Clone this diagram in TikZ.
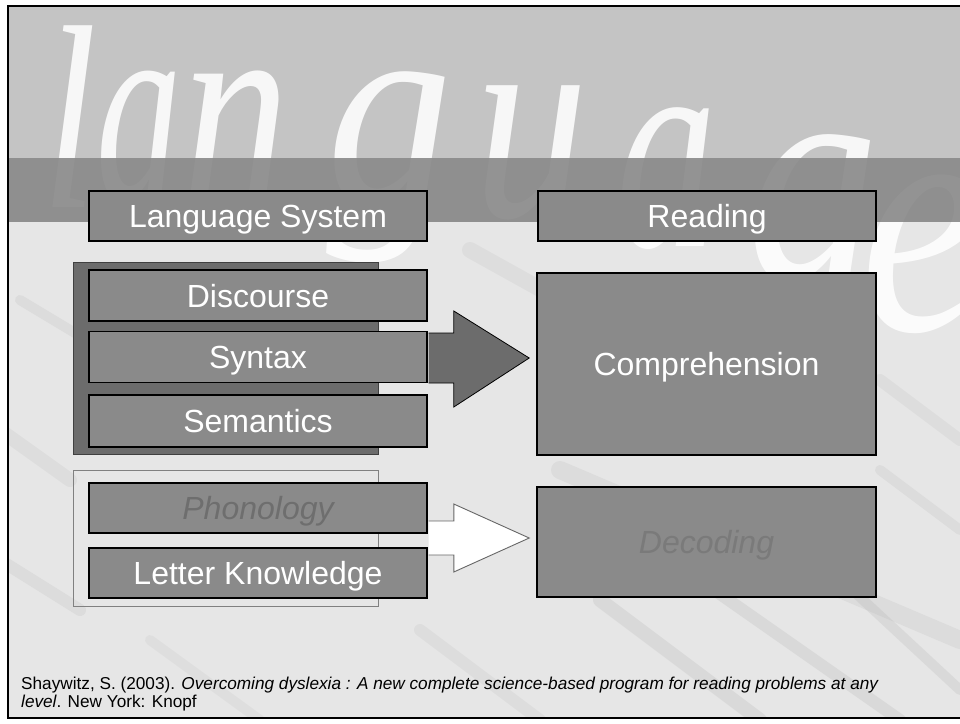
\documentclass[tikz,border=0pt]{standalone}
\usepackage{fontspec}
\setmainfont{Liberation Sans}
\newfontfamily\bigserif{Liberation Serif}
\usetikzlibrary{calc}
\definecolor{topbg}{HTML}{C4C4C4}
\definecolor{lowbg}{HTML}{E6E6E6}
\definecolor{bandc}{HTML}{7A7A7A}
\definecolor{boxfill}{HTML}{8A8A8A}
\definecolor{grpfill}{HTML}{6C6C6C}
\definecolor{dimtext}{HTML}{6E6E6E}
\definecolor{streak}{HTML}{A0A0A0}
\begin{document}
\begin{tikzpicture}[x=1pt,y=-1pt,
  box/.style={draw=black,line width=1.6pt,fill=boxfill,text=white,inner sep=0pt,
    minimum width=338pt,minimum height=50pt,text height=23pt,text depth=0pt,
    font=\fontsize{32}{36}\selectfont},
  dimbox/.style={box,text=dimtext,font=\fontsize{32}{36}\selectfont\itshape},
  grpbox/.style={inner sep=0pt,minimum width=305pt},
  bigletter/.style={anchor=base west,inner sep=0pt,text=white,text opacity=0.88},
  streakline/.style={draw=streak,line cap=round},
  solidarrow/.style={fill=grpfill,draw=black,line width=0.8pt,line join=miter},
  hollowarrow/.style={draw=black!60,line width=0.9pt,line join=miter}
]
\useasboundingbox (0,0) rectangle (960,723);
\fill[white] (0,0) rectangle (960,723);
\begin{scope}
  \clip (8,6) rectangle (962,718);
  \fill[lowbg] (0,0) rectangle (962,723);
  % streaks of the photo background
  \draw[streakline,line width=10pt,opacity=0.14] (20,300) -- (120,360);
  \draw[streakline,line width=14pt,opacity=0.12] (0,430) -- (70,480);
  \draw[streakline,line width=12pt,opacity=0.14] (0,560) -- (80,610);
  \draw[streakline,line width=18pt,opacity=0.14] (560,470) -- (960,640);
  \draw[streakline,line width=14pt,opacity=0.18] (600,600) -- (760,720);
  \draw[streakline,line width=12pt,opacity=0.18] (700,580) -- (900,720);
  \draw[streakline,line width=10pt,opacity=0.18] (820,560) -- (960,690);
  \draw[streakline,line width=10pt,opacity=0.14] (880,470) -- (960,530);
  \draw[streakline,line width=12pt,opacity=0.12] (420,630) -- (540,720);
  \draw[streakline,line width=10pt,opacity=0.10] (150,640) -- (260,720);
  \draw[streakline,line width=16pt,opacity=0.12] (470,250) -- (560,300);
  \draw[streakline,line width=12pt,opacity=0.12] (880,380) -- (960,440);
  \fill[topbg] (0,0) rectangle (962,158);
  % large watermark word
  \node[bigletter,font=\bigserif\itshape\fontsize{262}{262}\selectfont] (w1) at (42,207) {\scalebox{0.75}[1]{l}};
  \node[bigletter,font=\bigserif\itshape\fontsize{275}{275}\selectfont] (w2) at (96,200) {\scalebox{0.62}[1]{a}};
  \node[bigletter,font=\bigserif\itshape\fontsize{275}{275}\selectfont] (w3) at (182,200) {\scalebox{0.78}[1]{n}};
  \node[bigletter,font=\bigserif\itshape\fontsize{280}{280}\selectfont] (w4) at (326,203) {\scalebox{0.9}[1]{g}};
  \node[bigletter,font=\bigserif\itshape\fontsize{285}{285}\selectfont] (w5) at (474,216) {\scalebox{0.8}[1]{u}};
  \node[bigletter,font=\bigserif\itshape\fontsize{295}{295}\selectfont] (w6) at (616,246) {\scalebox{0.68}[1]{a}};
  \node[bigletter,font=\bigserif\itshape\fontsize{310}{310}\selectfont] (w7) at (746,280) {\scalebox{0.85}[1]{g}};
  \node[bigletter,font=\bigserif\itshape\fontsize{330}{330}\selectfont] (w8) at (860,330) {\scalebox{0.85}[1]{e}};
  \fill[bandc,opacity=0.8] (0,158) rectangle (962,222);
\end{scope}
\draw[black,line width=1.4pt] (8,6) rectangle (962,718);

% groups
\node[grpbox,fill=grpfill,draw=black!75,line width=0.6pt,minimum height=192pt] (g1) at (225.5,358) {};
\node[grpbox,draw=black!50,line width=0.8pt,minimum height=136pt] (g2) at (225.5,538) {};

% boxes
\node[box] (lang) at (258,216) {Language System};
\node[box] (read) at (707,216) {Reading};
\node[box,minimum height=51pt] (disc) at (258,295.5) {Discourse};
\node[box,minimum height=51pt] (syn) at (258,357) {Syntax};
\node[box,minimum height=52pt] (sem) at (258,421) {Semantics};
\node[dimbox] (phon) at (258,508) {Phonology};
\node[box] (letter) at (258,573) {Letter Knowledge};
\node[box,minimum width=339pt,minimum height=182pt] (comp) at (706.5,364) {Comprehension};
\node[dimbox,text=black!52,minimum width=339pt,minimum height=110pt] (dec) at (706.5,542) {Decoding};

% solid arrow: language comprehension -> comprehension
\coordinate (tipA) at ($(comp.west |- syn.east)+(-7,1)$);
\draw[solidarrow] ($(syn.east)+(0.8,-24)$) -- ($(syn.east)+(26,-24)$) -- ($(syn.east)+(26,-46)$)
  -- (tipA) -- ($(syn.east)+(26,50)$) -- ($(syn.east)+(26,26)$) -- ($(syn.east)+(0.8,26)$);

% hollow arrow: phonology & letter knowledge -> decoding
\coordinate (hs) at ($(phon.east)!0.5!(letter.east)+(0,-2.5)$);
\coordinate (tipB) at ($(dec.west |- hs)+(-7,0)$);
\fill[white] ($(hs)+(0.8,-17)$) -- ($(hs)+(26,-17)$) -- ($(hs)+(26,-34)$) -- (tipB)
  -- ($(hs)+(26,34)$) -- ($(hs)+(26,17)$) -- ($(hs)+(0.8,17)$) -- cycle;
\draw[hollowarrow] ($(hs)+(0.8,-17)$) -- ($(hs)+(26,-17)$) -- ($(hs)+(26,-34)$) -- (tipB)
  -- ($(hs)+(26,34)$) -- ($(hs)+(26,17)$) -- ($(hs)+(0.8,17)$);

% citation
\node[anchor=north west,inner sep=0pt,align=left,font=\fontsize{17.2}{17.5}\selectfont] (cite) at (21,677)
  {Shaywitz, S. (2003). \textit{Overcoming dyslexia : A new complete science-based program for reading problems at any}\\
   \textit{level}. New York: Knopf};
\end{tikzpicture}
\end{document}
